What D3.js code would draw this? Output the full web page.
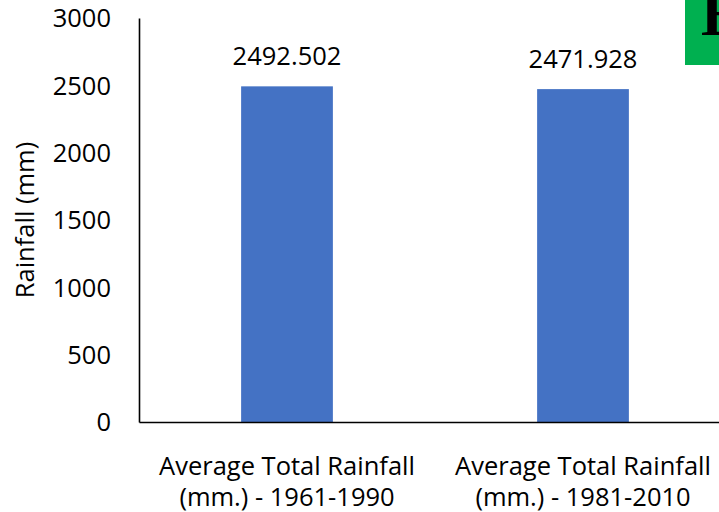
<!DOCTYPE html>
<html>
<head>
<meta charset="utf-8">
<script src="https://cdn.jsdelivr.net/npm/d3@7"></script>
<style>
  html, body { margin: 0; padding: 0; background: #fff; }
  svg { display: block; }
  text { font-family: "Open Sans", "Liberation Sans", sans-serif; fill: #000; }
</style>
</head>
<body>
<svg id="chart" width="719" height="512"></svg>
<script>
// Average total rainfall for the two climate normal periods
const categories = [
  "Average Total Rainfall (mm.) - 1961-1990",
  "Average Total Rainfall (mm.) - 1981-2010"
];
const rainfall = [2492.502, 2471.928];
const yTicks = [0, 500, 1000, 1500, 2000, 2500, 3000];
const yTitle = "Rainfall (mm)";
const panelLetter = "B";

const svg = d3.select("#chart");
const W = 719, H = 512;
const m = { left: 139, top: 18, bottom: 422, right: 731 };
const fontSize = 25.5;

const x = d3.scaleBand()
  .domain(categories)
  .range([m.left, m.right])
  .paddingInner(0.69)
  .paddingOuter(0.345);

const y = d3.scaleLinear()
  .domain([0, 3000])
  .range([m.bottom, m.top]);

// bars
svg.append("g")
  .selectAll("rect")
  .data(rainfall)
  .join("rect")
  .attr("x", (d, i) => x(categories[i]))
  .attr("width", x.bandwidth())
  .attr("y", d => y(d))
  .attr("height", d => y(0) - y(d))
  .attr("fill", "#4472C4");

// value labels
svg.append("g")
  .selectAll("text")
  .data(rainfall)
  .join("text")
  .attr("x", (d, i) => x(categories[i]) + x.bandwidth() / 2)
  .attr("y", d => y(d) - 21)
  .attr("text-anchor", "middle")
  .style("font-size", fontSize + "px")
  .text(d => d3.format(".3f")(d));

// y axis
const yAxis = svg.append("g")
  .attr("transform", `translate(${m.left},0)`)
  .call(d3.axisLeft(y).tickValues(yTicks).tickFormat(d3.format("d"))
    .tickSize(0).tickSizeOuter(0).tickPadding(28));
yAxis.select(".domain").attr("stroke", "#000").attr("stroke-width", 1.6);
yAxis.selectAll("text")
  .style("font-size", fontSize + "px")
  .style("font-family", '"Open Sans", sans-serif')
  .attr("dy", "0.35em");

// x axis line
const xAxis = svg.append("g")
  .attr("transform", `translate(0,${m.bottom})`)
  .call(d3.axisBottom(x).tickSize(0).tickSizeOuter(0).tickFormat(""));
xAxis.select(".domain").attr("stroke", "#000").attr("stroke-width", 1.6);

// two-line category labels
const catLabels = svg.append("g")
  .selectAll("text")
  .data(categories)
  .join("text")
  .attr("text-anchor", "middle")
  .style("font-size", fontSize + "px")
  .attr("transform", d => `translate(${x(d) + x.bandwidth() / 2},0)`);
catLabels.each(function (d) {
  const cut = d.indexOf(" (");
  const lines = [d.slice(0, cut), d.slice(cut + 1)];
  d3.select(this).selectAll("tspan")
    .data(lines)
    .join("tspan")
    .attr("x", 0)
    .attr("y", (l, i) => 475 + i * 31)
    .text(l => l);
});

// y axis title
svg.append("text")
  .attr("transform", `translate(34,${(m.top + m.bottom) / 2}) rotate(-90)`)
  .attr("text-anchor", "middle")
  .style("font-size", fontSize + "px")
  .text(yTitle);

// panel letter badge in the top-right corner
svg.append("rect")
  .attr("x", 685).attr("y", 0)
  .attr("width", W - 685).attr("height", 65)
  .attr("fill", "#00B050");
svg.append("text")
  .attr("x", 701)
  .attr("y", 35)
  .style("font-family", '"Liberation Serif", "DejaVu Serif", serif')
  .style("font-weight", "bold")
  .style("font-size", "62px")
  .text(panelLetter);
</script>
</body>
</html>
